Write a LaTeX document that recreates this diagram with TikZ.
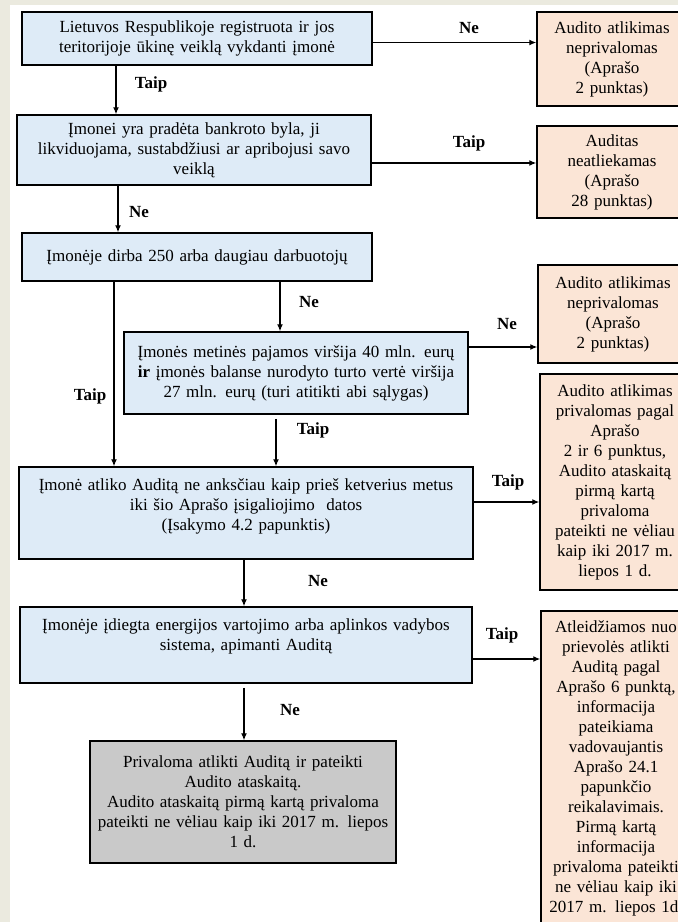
\documentclass[tikz,border=0pt]{standalone}
\usepackage{fontspec}
\setmainfont{Liberation Serif}
\usetikzlibrary{arrows.meta}
\definecolor{boxblue}{HTML}{DEEBF7}
\definecolor{boxpeach}{HTML}{FBE5D6}
\definecolor{boxgray}{HTML}{C9C9C9}
\definecolor{pagebg}{HTML}{EBEADF}

\begin{document}
\begin{tikzpicture}[x=1pt,y=-1pt,
  every node/.style={font=\fontsize{17}{20}\selectfont},
  stepbox/.style={draw, line width=1.5pt, fill=boxblue, align=center, inner sep=0pt},
  resbox/.style={draw, line width=1.5pt, fill=boxpeach, align=center, inner sep=0pt, text width=150pt, minimum width=150pt},
  lbl/.style={font=\fontsize{17}{20}\selectfont\bfseries},
  arr/.style={line width=1.2pt, -{Latex[length=7pt,width=6pt]}}]
\clip (0,0) rectangle (678,922);
\fill[pagebg] (0,0) rectangle (678,922);
\fill[white] (10,5) rectangle (678,922);
% left column
\node[stepbox, text width=350pt, minimum height=53pt] (b1) at (197,38.5) {Lietuvos Respublikoje registruota ir jos\\teritorijoje ūkinę veiklą vykdanti įmonė};
\node[stepbox, text width=354pt, minimum height=70pt] (b2) at (194,150) {Įmonei yra pradėta bankroto byla, ji\\likviduojama, sustabdžiusi ar apribojusi savo\\veiklą};
\node[stepbox, text width=350pt, minimum height=48pt] (b3) at (197,257) {Įmonėje dirba 250 arba daugiau darbuotojų};
\node[stepbox, text width=344pt, minimum height=82pt] (b4) at (296,373) {Įmonės metinės pajamos viršija 40 mln. eurų\\\textbf{ir} įmonės balanse nurodyto turto vertė viršija\\27 mln. eurų (turi atitikti abi sąlygas)};
\node[stepbox, text width=454pt, minimum height=92pt] (b5) at (246,513) {Įmonė atliko Auditą ne anksčiau kaip prieš ketverius metus\\iki šio Aprašo įsigaliojimo~ datos\\(Įsakymo 4.2 papunktis)\\[-4pt]\mbox{}};
\node[stepbox, text width=452pt, minimum height=76pt] (b6) at (246,645) {Įmonėje įdiegta energijos vartojimo arba aplinkos vadybos\\sistema, apimanti Auditą\\[0pt]\mbox{}};
\node[stepbox, fill=boxgray, text width=306pt, minimum height=122pt] (b7) at (243,802) {Privaloma atlikti Auditą ir pateikti\\Audito ataskaitą.\\Audito ataskaitą pirmą kartą privaloma\\pateikti ne vėliau kaip iki 2017 m. liepos\\1 d.};
% right column
\node[resbox, minimum height=94pt] (r1) at (612,59) {Audito atlikimas\\neprivalomas\\(Aprašo\\2 punktas)};
\node[resbox, minimum height=92pt] (r2) at (612,172) {Auditas\\neatliekamas\\(Aprašo\\28 punktas)};
\node[resbox, minimum height=98pt] (r3) at (613,314) {Audito atlikimas\\neprivalomas\\(Aprašo\\2 punktas)};
\node[resbox, minimum height=216pt] (r4) at (615,482) {Audito atlikimas\\privalomas pagal\\Aprašo\\2 ir 6 punktus,\\Audito ataskaitą\\pirmą kartą\\privaloma\\pateikti ne vėliau\\kaip iki 2017 m.\\liepos 1 d.};
\node[resbox, minimum height=314pt] (r5) at (616,768) {Atleidžiamos nuo\\prievolės atlikti\\Auditą pagal\\Aprašo 6 punktą,\\informacija\\pateikiama\\vadovaujantis\\Aprašo 24.1\\papunkčio\\reikalavimais.\\Pirmą kartą\\informacija\\privaloma pateikti\\ne vėliau kaip iki\\2017 m. liepos 1d.};
% arrows
\draw[arr] ([yshift=-4pt]b1.east) -- ([yshift=-4pt]b1.east -| r1.west);
\draw[arr] ([yshift=-13pt]b2.east) -- ([yshift=-13pt]b2.east -| r2.west);
\draw[arr] ([yshift=26pt]b4.east) -- ([yshift=26pt]b4.east -| r3.west);
\draw[arr] ([yshift=11pt]b5.east) -- ([yshift=11pt]b5.east -| r4.west);
\draw[arr] ([yshift=-14pt]b6.east) -- ([yshift=-14pt]b6.east -| r5.west);
\draw[arr] ([xshift=-81pt]b1.south) -- ([xshift=-81pt]b1.south |- b2.north);
\draw[arr] ([xshift=-76pt]b2.south) -- ([xshift=-76pt]b2.south |- b3.north);
\draw[arr] ([xshift=83pt]b3.south) -- ([xshift=83pt]b3.south |- b4.north);
\draw[arr] ([xshift=-83pt]b3.south) -- ([xshift=-83pt]b3.south |- b5.north);
\draw[arr, shorten <=4pt] ([xshift=-20pt]b4.south) -- ([xshift=-20pt]b4.south |- b5.north);
\draw[arr] ([xshift=-2pt]b5.south) -- ([xshift=-2pt]b5.south |- b6.north);
\draw[arr, shorten <=4pt] ([xshift=-2pt]b6.south) -- ([xshift=-2pt]b6.south |- b7.north);
% labels
\node[lbl] (ne1) at (469,28) {Ne};
\node[lbl] (taip1) at (151,84) {Taip};
\node[lbl] (taip2) at (469,143) {Taip};
\node[lbl] (ne2) at (139,212) {Ne};
\node[lbl] (ne3) at (309,302) {Ne};
\node[lbl] (ne4) at (507,324) {Ne};
\node[lbl] (taip3) at (90,396) {Taip};
\node[lbl] (taip4) at (313,430) {Taip};
\node[lbl] (taip5) at (508,482) {Taip};
\node[lbl] (ne5) at (318,581) {Ne};
\node[lbl] (taip6) at (502,635) {Taip};
\node[lbl] (ne6) at (290,710) {Ne};
\end{tikzpicture}
\end{document}
